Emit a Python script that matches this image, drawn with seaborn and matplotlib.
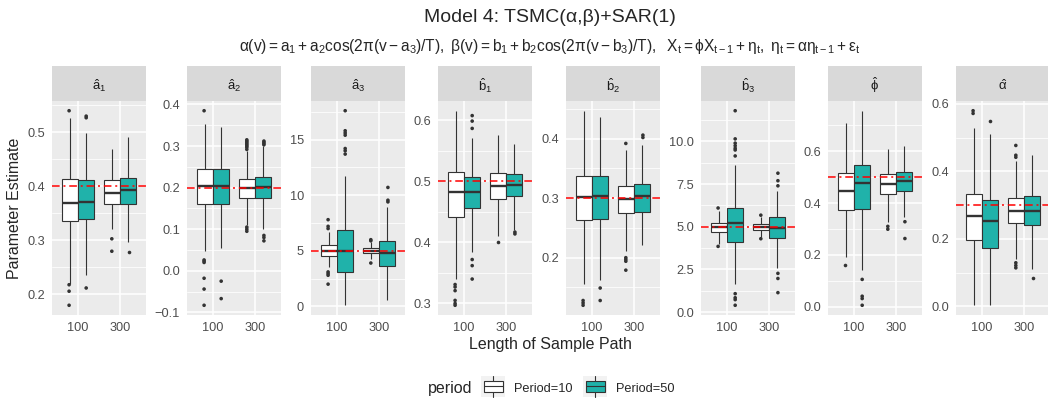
import matplotlib
matplotlib.use("Agg")
import matplotlib.pyplot as plt
from matplotlib.ticker import MultipleLocator, FuncFormatter
from matplotlib.patches import Rectangle
from matplotlib.lines import Line2D
from matplotlib.legend_handler import HandlerBase
import seaborn as sns
import numpy as np
import pandas as pd

# ---- data ----
params = ["a1", "a2", "a3", "b1", "b2", "b3", "phi", "alpha"]
strip_labels = [r"$\hat{a}_1$", r"$\hat{a}_2$", r"$\hat{a}_3$", r"$\hat{b}_1$",
                r"$\hat{b}_2$", r"$\hat{b}_3$", r"$\hat{\phi}$", r"$\hat{\alpha}$"]
true_values = [0.4, 0.2, 5, 0.5, 0.3, 5, 0.5, 0.3]
lengths = ["100", "300"]
periods = ["Period=10", "Period=50"]
# box order in every row: (100, P10), (100, P50), (300, P10), (300, P50)
whisk_lo = [
    [0.220, 0.236, 0.322, 0.297],
    [0.047, 0.055, 0.109, 0.100],
    [3.56, 0.10, 4.30, 0.57],
    [0.340, 0.384, 0.411, 0.420],
    [0.156, 0.163, 0.211, 0.222],
    [4.00, 1.67, 4.41, 2.60],
    [0.190, 0.141, 0.325, 0.348],
    [0.005, 0.003, 0.139, 0.111],
]
q1 = [
    [0.336, 0.339, 0.367, 0.367],
    [0.161, 0.161, 0.175, 0.175],
    [4.55, 3.05, 4.76, 3.62],
    [0.442, 0.456, 0.471, 0.476],
    [0.263, 0.265, 0.275, 0.277],
    [4.67, 4.12, 4.84, 4.35],
    [0.375, 0.377, 0.436, 0.446],
    [0.197, 0.172, 0.246, 0.240],
]
med = [
    [0.369, 0.372, 0.388, 0.393],
    [0.205, 0.204, 0.199, 0.201],
    [5.00, 4.95, 5.00, 4.76],
    [0.482, 0.482, 0.493, 0.494],
    [0.302, 0.304, 0.299, 0.303],
    [5.00, 5.20, 5.00, 4.90],
    [0.448, 0.477, 0.474, 0.484],
    [0.269, 0.253, 0.284, 0.284],
]
q3 = [
    [0.414, 0.412, 0.411, 0.416],
    [0.245, 0.245, 0.220, 0.226],
    [5.48, 6.90, 5.27, 5.87],
    [0.515, 0.507, 0.514, 0.513],
    [0.337, 0.338, 0.320, 0.324],
    [5.20, 6.12, 5.16, 5.59],
    [0.516, 0.549, 0.513, 0.521],
    [0.332, 0.314, 0.322, 0.328],
]
whisk_hi = [
    [0.526, 0.499, 0.470, 0.491],
    [0.352, 0.346, 0.287, 0.300],
    [6.70, 11.70, 5.80, 8.95],
    [0.616, 0.571, 0.576, 0.561],
    [0.447, 0.436, 0.381, 0.389],
    [5.95, 8.63, 5.55, 7.12],
    [0.711, 0.757, 0.610, 0.620],
    [0.529, 0.511, 0.430, 0.448],
]
outliers = [
    [[0.540, 0.218, 0.206, 0.180], [0.530, 0.527, 0.212], [0.303, 0.280], [0.278]],
    [[0.385, 0.026, 0.023, 0.020, -0.018, -0.044, -0.083], [-0.025, -0.067],
     [0.292, 0.297, 0.300, 0.303, 0.306, 0.309, 0.312, 0.315, 0.105, 0.100, 0.095],
     [0.303, 0.306, 0.309, 0.312, 0.085, 0.080, 0.072]],
    [[7.8, 7.2, 7.0, 3.1, 2.95, 2.8, 2.0], [17.6, 15.8, 15.6, 15.4, 14.2, 14.0, 13.7],
     [6.0, 5.9, 3.9], [10.7, 9.55, 9.4]],
    [[0.331, 0.327, 0.321, 0.305, 0.300, 0.297], [0.608, 0.599, 0.587, 0.372, 0.362, 0.340],
     [0.401], [0.417, 0.414]],
    [[0.128, 0.124, 0.120], [0.149, 0.128], [0.392, 0.200, 0.197, 0.194, 0.179], [0.406, 0.402]],
    [[6.1, 3.85], [11.8, 10.15, 9.9, 9.75, 9.6, 9.5, 9.15, 1.08, 0.84, 0.73, 0.4],
     [5.68, 4.30], [8.14, 7.7, 7.4, 2.27, 1.97, 1.14]],
    [[0.161], [0.105, 0.040, 0.031, 0.005], [0.310, 0.299], [0.328, 0.263]],
    [[0.580, 0.572], [0.551], [0.477, 0.448, 0.442, 0.129, 0.121, 0.114], [0.085]],
]
major_step = [0.1, 0.1, 5, 0.1, 0.1, 2.5, 0.2, 0.2]
tick_fmt = ["{:.1f}", "{:.1f}", "{:.0f}", "{:.1f}", "{:.1f}", "{:.1f}", "{:.1f}", "{:.1f}"]

box_keys = [(l, p) for l in lengths for p in periods]

box_rows, out_rows = [], []
for i, par in enumerate(params):
    for j, (l, p) in enumerate(box_keys):
        for v in (whisk_lo[i][j], q1[i][j], med[i][j], q3[i][j], whisk_hi[i][j]):
            box_rows.append((par, l, p, v))
        for v in outliers[i][j]:
            out_rows.append((par, l, p, v))
box_df = pd.DataFrame(box_rows, columns=["param", "n", "period", "value"])
out_df = pd.DataFrame(out_rows, columns=["param", "n", "period", "value"])

# ---- style ----
sns.set_style("white")
plt.rcParams["font.family"] = ["Liberation Sans", "DejaVu Sans"]
plt.rcParams["mathtext.fontset"] = "custom"
plt.rcParams["mathtext.rm"] = "Liberation Sans"
plt.rcParams["mathtext.it"] = "Liberation Sans"
plt.rcParams["mathtext.bf"] = "Liberation Sans:bold"

teal = "#20B2AA"
dark = "#333333"
pal = {"Period=10": "white", "Period=50": teal}

W, H = 1048, 403
fig = plt.figure(figsize=(W / 100, H / 100), dpi=100)

panel_x = [52, 187, 311, 438, 566, 701, 828, 956]
pw = 94
top, bottom, strip_top = 101, 315, 66

def fx(px):
    return px / W

def fy(py):
    return 1 - py / H

for i, par in enumerate(params):
    ax = fig.add_axes([fx(panel_x[i]), fy(bottom), fx(pw), (bottom - top) / H])
    ax.set_facecolor("#EBEBEB")
    bd = box_df[box_df.param == par]
    od = out_df[out_df.param == par]
    sns.boxplot(data=bd, x="n", y="value", hue="period", order=lengths, hue_order=periods,
                palette=pal, saturation=1, width=0.75, whis=(0, 100), showfliers=False,
                showcaps=False, linecolor=dark, linewidth=0.8,
                medianprops={"linewidth": 1.7, "color": dark}, legend=False, ax=ax)
    sns.stripplot(data=od, x="n", y="value", hue="period", order=lengths, hue_order=periods,
                  palette={p: dark for p in periods}, dodge=True, jitter=False, size=2.6,
                  linewidth=0, legend=False, ax=ax)
    ax.axhline(true_values[i], color="red", lw=1.1, ls=(0, (5, 2.5, 1.3, 2.5)), zorder=6)

    allv = pd.concat([bd.value, od.value])
    lo, hi = allv.min(), allv.max()
    pad = 0.05 * (hi - lo)
    ax.set_ylim(lo - pad, hi + pad)
    ax.set_xlim(-0.6, 1.6)
    ax.yaxis.set_major_locator(MultipleLocator(major_step[i]))
    ax.yaxis.set_minor_locator(MultipleLocator(major_step[i] / 2))
    fmt = tick_fmt[i]
    ax.yaxis.set_major_formatter(FuncFormatter(lambda v, pos, f=fmt: f.format(v).replace("-", "\u2212")))
    ax.set_axisbelow(True)
    ax.grid(True, which="major", color="white", lw=1.1)
    ax.grid(True, which="minor", axis="y", color="white", lw=0.55)
    for s in ax.spines.values():
        s.set_visible(False)
    ax.tick_params(axis="both", which="major", length=3, width=0.8, color=dark,
                   labelcolor="#4D4D4D", labelsize=9.2, pad=2)
    ax.tick_params(axis="both", which="minor", length=0)
    ax.set_xlabel("")
    ax.set_ylabel("")

    sax = fig.add_axes([fx(panel_x[i]), fy(top), fx(pw), (top - strip_top) / H])
    sax.set_facecolor("#D9D9D9")
    sax.set_xticks([])
    sax.set_yticks([])
    for s in sax.spines.values():
        s.set_visible(False)
    sax.text(0.5, 0.45, strip_labels[i], ha="center", va="center", fontsize=9.5,
             color="#1A1A1A", transform=sax.transAxes)

fig.text(fx(550), fy(18), "Model 4: TSMC(α,β)+SAR(1)", ha="center", va="center", fontsize=14)
fig.text(fx(550), fy(47),
         r"$\alpha(v) = a_1 + a_2\cos(2\pi(v - a_3)/T),\ \beta(v) = b_1 + b_2\cos(2\pi(v - b_3)/T),"
         r"\ \ X_t = \phi X_{t-1} + \eta_t,\ \eta_t = \alpha\eta_{t-1} + \epsilon_t$",
         ha="center", va="center", fontsize=11.2)
fig.text(fx(550), fy(344), "Length of Sample Path", ha="center", va="center", fontsize=11.5)
fig.text(fx(15), fy((top + bottom) / 2), "Parameter Estimate", ha="center", va="center",
         rotation=90, fontsize=11.5)


class BoxKey(HandlerBase):
    def create_artists(self, legend, orig, xd, yd, w, h, fs, trans):
        bg = Rectangle((xd, yd - 0.5 * h), w, 2.0 * h, fc="#F2F2F2", ec="none", transform=trans)
        box = Rectangle((xd + 0.1 * w, yd - 0.05 * h), 0.8 * w, 1.1 * h, fc=orig.get_facecolor(),
                        ec=dark, lw=0.8, transform=trans)
        mid = Line2D([xd + 0.1 * w, xd + 0.9 * w], [yd + 0.5 * h] * 2, color=dark, lw=0.8, transform=trans)
        up = Line2D([xd + 0.5 * w] * 2, [yd + 1.05 * h, yd + 1.5 * h], color=dark, lw=0.8, transform=trans)
        dn = Line2D([xd + 0.5 * w] * 2, [yd - 0.05 * h, yd - 0.5 * h], color=dark, lw=0.8, transform=trans)
        return [bg, box, mid, up, dn]


handles = [Rectangle((0, 0), 1, 1, fc=pal[p]) for p in periods]
fig.legend(handles, periods, handler_map={Rectangle: BoxKey()}, loc="center",
           bbox_to_anchor=(fx(578), fy(389)), ncol=2, frameon=False, fontsize=9.2,
           handlelength=1.9, handleheight=0.85, handletextpad=0.7, columnspacing=0.8)
fig.text(fx(472), fy(389), "period", ha="right", va="center", fontsize=11.5)

fig.savefig("out.png", dpi=100)
